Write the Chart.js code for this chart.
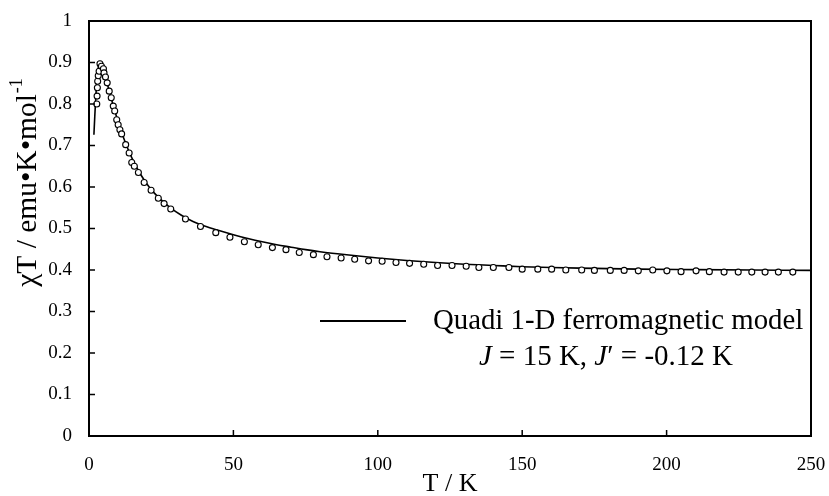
<!DOCTYPE html>
<html>
<head>
<meta charset="utf-8">
<script src="https://cdn.jsdelivr.net/npm/chart.js@4.4.0/dist/chart.umd.min.js"></script>
<style>
  html, body { margin: 0; padding: 0; background: #fff; }
  #wrap { width: 829px; height: 496px; }
</style>
</head>
<body>
<div id="wrap"><canvas id="chart"></canvas></div>
<script>
// measured points: temperature (K) and chiT (emu K / mol)
const tData = [
  2.7, 2.8, 2.9, 3.0, 3.2, 3.5, 3.8, 4.3, 5.0, 5.2, 5.7, 6.3, 7.0, 7.7, 8.4, 8.9,
  9.6, 10.1, 10.7, 11.3, 12.7, 13.9, 14.8, 15.7, 17.1, 19.1, 21.5, 24.0, 26.0, 28.3,
  33.4, 38.6, 43.9, 48.8, 53.8, 58.6, 63.5, 68.2, 72.8, 77.7, 82.4, 87.3, 92.0, 96.8,
  101.5, 106.3, 111.0, 115.9, 120.7, 125.7, 130.6, 135.0, 140.0, 145.4, 150.0, 155.4,
  160.2, 165.1, 170.6, 175.0, 180.5, 185.3, 190.2, 195.2, 200.1, 205.0, 210.2, 214.8,
  219.9, 224.8, 229.5, 234.1, 238.7, 243.7
];
const chiTData = [
  0.800, 0.819, 0.839, 0.855, 0.868, 0.879, 0.897, 0.891, 0.885, 0.875, 0.865, 0.851, 0.831, 0.815, 0.795, 0.783,
  0.762, 0.750, 0.738, 0.728, 0.702, 0.682, 0.659, 0.650, 0.635, 0.611, 0.592, 0.573, 0.560, 0.547,
  0.523, 0.505, 0.490, 0.479, 0.468, 0.461, 0.454, 0.449, 0.442, 0.437, 0.432, 0.429, 0.426, 0.422,
  0.421, 0.418, 0.416, 0.414, 0.411, 0.411, 0.409, 0.406, 0.406, 0.406, 0.402, 0.402,
  0.402, 0.400, 0.400, 0.399, 0.399, 0.399, 0.398, 0.400, 0.398, 0.396, 0.398, 0.396,
  0.395, 0.395, 0.395, 0.395, 0.395, 0.395
];

// Quadi 1-D ferromagnetic model curve
const tFit = [
  1.7, 2.0, 2.3, 2.6, 3.0, 3.4, 3.8, 4.2, 4.7, 5.3, 6, 7, 8, 9, 10, 11, 12, 13, 14, 15, 16,
  18, 20, 22, 25, 28, 32, 36, 40, 45, 50, 55, 60, 65, 70, 75, 80, 90, 100, 110, 120, 130,
  140, 150, 160, 175, 190, 210, 230, 250
];
const chiTFit = [
  0.726, 0.770, 0.810, 0.845, 0.877, 0.895, 0.902, 0.899, 0.890, 0.875, 0.857, 0.832, 0.806, 0.782, 0.759, 0.738, 0.718, 0.700, 0.683, 0.668, 0.654,
  0.629, 0.608, 0.590, 0.569, 0.551, 0.532, 0.517, 0.506, 0.495, 0.485, 0.476, 0.468, 0.461, 0.455, 0.449, 0.444, 0.436, 0.429, 0.423, 0.418, 0.414,
  0.411, 0.408, 0.406, 0.404, 0.402, 0.401, 0.400, 0.399
];

const xTicks = [0, 50, 100, 150, 200, 250];
const yTicks = [0, 0.1, 0.2, 0.3, 0.4, 0.5, 0.6, 0.7, 0.8, 0.9, 1];

const serif = '"Liberation Serif", "Times New Roman", serif';

function zip(xs, ys) {
  return xs.map((x, i) => ({ x: x, y: ys[i] }));
}

// box round the plot, with short inward ticks on the left and bottom sides
const framePlugin = {
  id: 'frame',
  afterDatasetsDraw(chart) {
    const { ctx, chartArea: a, scales } = chart;
    ctx.save();
    ctx.strokeStyle = '#000';
    ctx.lineWidth = 2;
    ctx.strokeRect(a.left, a.top, a.right - a.left, a.bottom - a.top);
    ctx.lineWidth = 1.5;
    ctx.beginPath();
    xTicks.forEach((v) => {
      const px = scales.x.getPixelForValue(v);
      ctx.moveTo(px, a.bottom);
      ctx.lineTo(px, a.bottom - 6);
    });
    yTicks.forEach((v) => {
      const py = scales.y.getPixelForValue(v);
      ctx.moveTo(a.left, py);
      ctx.lineTo(a.left + 6, py);
    });
    ctx.stroke();
    ctx.restore();
  }
};

// axis titles (y one has a superscript) and the legend box text
const textPlugin = {
  id: 'texts',
  afterDraw(chart) {
    const ctx = chart.ctx;
    const a = chart.chartArea;
    ctx.save();
    ctx.fillStyle = '#000';
    ctx.textBaseline = 'middle';

    // x axis title
    ctx.textAlign = 'center';
    ctx.font = '26px ' + serif;
    ctx.fillText('T / K', (a.left + a.right) / 2, 484);

    // y axis title
    ctx.textAlign = 'left';
    ctx.translate(28, 183);
    ctx.rotate(-Math.PI / 2);
    const main = 'χT / emu•K•mol';
    const sup = '-1';
    ctx.font = '29.5px ' + serif;
    const w1 = ctx.measureText(main).width;
    ctx.font = '18px ' + serif;
    const w2 = ctx.measureText(sup).width;
    const x0 = -(w1 + w2) / 2;
    ctx.font = '29.5px ' + serif;
    ctx.fillText(main, x0, 0);
    ctx.font = '18px ' + serif;
    ctx.fillText(sup, x0 + w1 + 1, -11);
    ctx.setTransform(1, 0, 0, 1, 0, 0);

    // legend
    ctx.strokeStyle = '#000';
    ctx.lineWidth = 2;
    ctx.beginPath();
    ctx.moveTo(320, 321);
    ctx.lineTo(406, 321);
    ctx.stroke();
    ctx.font = '28.8px ' + serif;
    ctx.fillText('Quadi 1-D ferromagnetic model', 433, 321);

    const parts = [
      ['J', true], [' = 15 K, ', false], ['J', true], ['′ = -0.12 K', false]
    ];
    let total = 0;
    parts.forEach((p) => {
      ctx.font = (p[1] ? 'italic ' : '') + '29px ' + serif;
      total += ctx.measureText(p[0]).width;
    });
    let x = 606 - total / 2;
    parts.forEach((p) => {
      ctx.font = (p[1] ? 'italic ' : '') + '29px ' + serif;
      ctx.fillText(p[0], x, 357);
      x += ctx.measureText(p[0]).width;
    });
    ctx.restore();
  }
};

new Chart(document.getElementById('chart'), {
  type: 'scatter',
  data: {
    datasets: [
      {
        label: 'data',
        data: zip(tData, chiTData),
        showLine: false,
        pointRadius: 3,
        pointBorderWidth: 1.1,
        pointBorderColor: '#000',
        pointBackgroundColor: '#fff'
      },
      {
        label: 'Quadi 1-D ferromagnetic model',
        data: zip(tFit, chiTFit),
        showLine: true,
        pointRadius: 0,
        borderColor: '#000',
        borderWidth: 1.6,
        cubicInterpolationMode: 'monotone'
      }
    ]
  },
  options: {
    responsive: true,
    maintainAspectRatio: false,
    animation: false,
    layout: { padding: { top: 21, right: 18, left: 0, bottom: 0 } },
    plugins: {
      legend: { display: false },
      tooltip: { enabled: false }
    },
    scales: {
      x: {
        type: 'linear',
        min: 0,
        max: 250,
        afterBuildTicks: (s) => { s.ticks = xTicks.map((v) => ({ value: v })); },
        afterFit: (s) => { s.height = 60; s.paddingLeft = 0; s.paddingRight = 0; },
        grid: { display: false },
        border: { display: false },
        ticks: {
          padding: 10,
          color: '#000',
          font: { family: serif, size: 19 }
        }
      },
      y: {
        type: 'linear',
        min: 0,
        max: 1,
        afterBuildTicks: (s) => { s.ticks = yTicks.map((v) => ({ value: v })); },
        afterFit: (s) => { s.width = 89; },
        grid: { display: false },
        border: { display: false },
        ticks: {
          padding: 9,
          color: '#000',
          font: { family: serif, size: 19 },
          callback: (v) => String(Math.round(v * 10) / 10)
        }
      }
    }
  },
  plugins: [framePlugin, textPlugin]
});
</script>
</body>
</html>
